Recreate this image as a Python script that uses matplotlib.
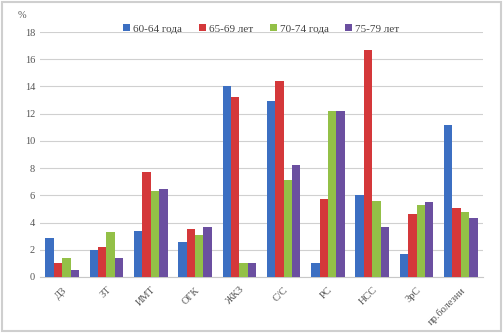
import numpy as np
import matplotlib.pyplot as plt
from matplotlib.patches import Rectangle

# categories and series
categories = ["ДЗ", "ЗТ", "ИМТ", "ОГК", "ЖКЗ", "С/С", "РС", "НСС", "ЗрС", "пр.болезни"]
series_names = ["60-64 года", "65-69 лет", "70-74 года", "75-79 лет"]
v_60_64 = [2.9, 2.0, 3.4, 2.6, 14.0, 12.9, 1.0, 6.0, 1.7, 11.2]
v_65_69 = [1.0, 2.2, 7.7, 3.5, 13.2, 14.4, 5.7, 16.7, 4.6, 5.1]
v_70_74 = [1.4, 3.3, 6.3, 3.1, 1.0, 7.1, 12.2, 5.6, 5.3, 4.8]
v_75_79 = [0.5, 1.4, 6.5, 3.7, 1.0, 8.2, 12.2, 3.7, 5.5, 4.3]
colors = ["#3c6fc2", "#d4383a", "#93c047", "#6b4fa0"]

plt.rcParams['font.family'] = ['Liberation Serif', 'DejaVu Serif']

fig = plt.figure(figsize=(5.03, 3.33), dpi=100)
ax = fig.add_axes([40 / 503, 56 / 333, 443 / 503, 245 / 333])

x = np.arange(len(categories))
w = 0.19
for i, (vals, name) in enumerate(zip([v_60_64, v_65_69, v_70_74, v_75_79], series_names)):
    ax.bar(x + (i - 1.5) * w, vals, width=w, color=colors[i], label=name, zorder=3)

ax.set_ylim(0, 18)
ax.set_xlim(-0.5, len(categories) - 0.5)
ax.set_yticks(range(0, 19, 2))
ax.yaxis.grid(True, color="#d0d0d0", linewidth=0.8, zorder=0)
ax.set_xticks(x)
ax.set_xticklabels(categories, rotation=45, ha="right", rotation_mode="anchor")
ax.tick_params(axis="both", labelsize=7.5, colors="#555555", length=0)
ax.tick_params(axis="x", pad=6)
for s in ["top", "right", "left"]:
    ax.spines[s].set_visible(False)
ax.spines["bottom"].set_color("#c8c8c8")

fig.text(22 / 503, 1 - 15 / 333, "%", fontsize=7.5, color="#555555", ha="center", va="center")

ax.legend(loc="lower center", bbox_to_anchor=(0.5, 0.975), ncol=4, frameon=False,
          fontsize=8, handlelength=0.6, handleheight=0.6, handletextpad=0.3,
          columnspacing=1.5, borderaxespad=0, labelcolor="#444444")

# light frame around the whole picture
fig.patches.append(Rectangle((0.004, 0.006), 0.992, 0.988, transform=fig.transFigure,
                             fill=False, edgecolor="#cfcfcf", linewidth=1.5))

fig.savefig("out.png", dpi=100)
